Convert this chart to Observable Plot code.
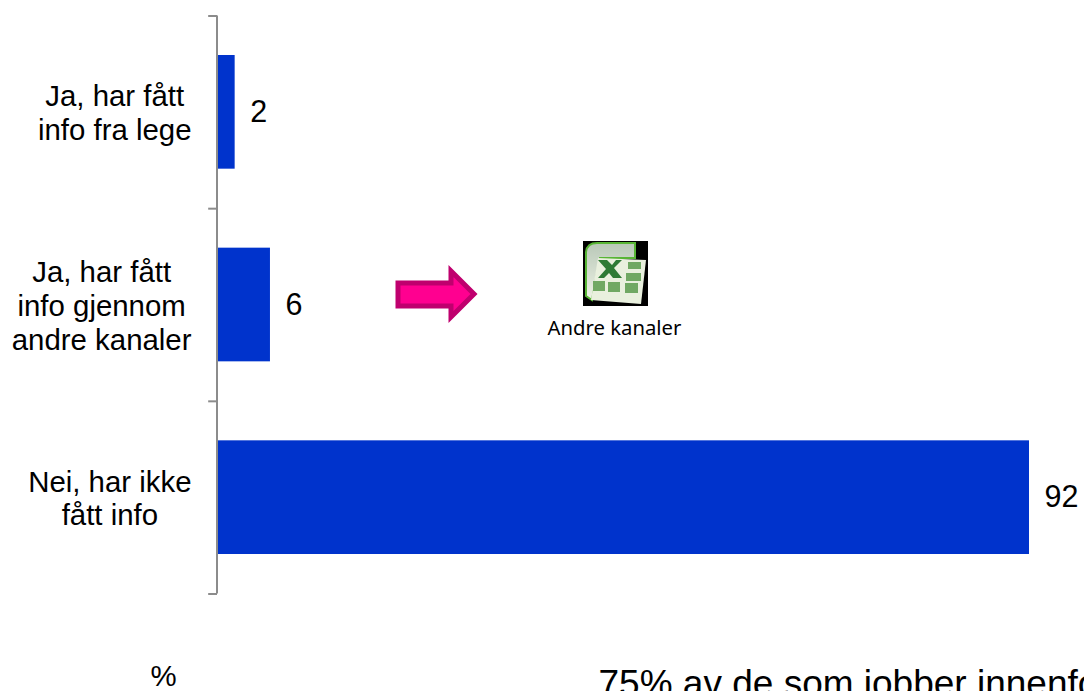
<!DOCTYPE html>
<html><head><meta charset="utf-8">
<script src="https://cdn.jsdelivr.net/npm/d3@7"></script>
<script src="https://cdn.jsdelivr.net/npm/@observablehq/plot@0.6"></script>
<style>html,body{margin:0;padding:0;background:#fff;overflow:hidden}svg{display:block}</style>
</head><body><div id="chart"></div>
<script>
const categories = ["Ja, har fått\ninfo fra lege", "Ja, har fått\ninfo gjennom\nandre kanaler", "Nei, har ikke\nfått info"];
const values = [2, 6, 92];
const rows = categories.map((c, i) => ({category: c, value: values[i]}));
const FONT = "Liberation Sans, Arial, sans-serif";
const AXIS = "#8c8c8c", BAR = "#0033cc";
const step = (593 - 15) / 3;
const ctx = document.createElement("canvas").getContext("2d");
ctx.font = "29.4px " + FONT;
const blockWidth = s => Math.max(...s.split("\n").map(l => ctx.measureText(l).width));

function decorations() {
  const g = d3.create("svg:g");
  g.append("polygon").attr("points", "398,283 451,283 451,271 474,294 451,317 451,306 398,306")
    .attr("fill", "#ff0090").attr("stroke", "#bf006e").attr("stroke-width", 5);
  const defs = g.append("defs");
  defs.append("filter").attr("id", "soft").append("feGaussianBlur").attr("stdDeviation", 0.7);
  const grad = defs.append("linearGradient").attr("id", "page").attr("x1", 0).attr("x2", 0).attr("y1", 0).attr("y2", 1);
  grad.append("stop").attr("offset", 0).attr("stop-color", "#b9c8b8");
  grad.append("stop").attr("offset", 1).attr("stop-color", "#eef3e6");
  g.append("rect").attr("x", 583).attr("y", 241).attr("width", 65).attr("height", 65).attr("fill", "#000");
  const icon = g.append("g").attr("filter", "url(#soft)");
  icon.append("path").attr("d", "M586 296 V252 Q587 243 597 243 H635 V258 H600 L592 300 Z").attr("fill", "url(#page)").attr("stroke", "#58b535").attr("stroke-width", 2);
  icon.append("polygon").attr("points", "598,258 646,260 641,304 591,300").attr("fill", "#e9f0de");
  const cells = [[628,262,13,7],[626,273,15,8],[593,281,12,10],[608,282,12,10],[625,283,13,10]];
  for (const [x,y,w,h] of cells) icon.append("rect").attr("x",x).attr("y",y).attr("width",w).attr("height",h).attr("fill","#6fa864");
  icon.append("path").attr("d","M598 260 H607 L612 265 L616 260 H622 L614 268 L622 278 H613 L609 273 L604 278 H598 L606 269 Z").attr("fill","#2f7a35");
  return g.node();
}

const plot = Plot.plot({
  width: 1084, height: 691,
  marginLeft: 217, marginRight: 55, marginTop: 15.5, marginBottom: 97.5,
  style: {background: "#fff", fontFamily: FONT, overflow: "hidden"},
  x: {domain: [0, 92], axis: null},
  y: {domain: categories, paddingInner: 0.41, paddingOuter: 0.205, round: false, axis: null},
  marks: [
    Plot.barX(rows, {x: "value", y: "category", fill: BAR}),
    Plot.ruleX([0], {stroke: AXIS, strokeWidth: 2, dx: -0.5}),
    Plot.ruleY(categories, {y: d => d, x1: -1, x2: 0, dy: -step / 2, stroke: AXIS, strokeWidth: 2}),
    Plot.ruleY(categories.slice(-1), {y: d => d, x1: -1, x2: 0, dy: step / 2, stroke: AXIS, strokeWidth: 2}),
    Plot.text(rows, {x: "value", y: "category", text: d => String(d.value), textAnchor: "start", dx: 15, fontSize: 30.5, fill: "#000"}),
    ...categories.map(c => Plot.text([c], {
      x: 0, y: d => d, text: d => d, textAnchor: "middle", lineHeight: 1.15,
      dx: -26 - blockWidth(c) / 2, fontSize: 29.4, fill: "#000"
    })),
    decorations,
    Plot.text(["Andre kanaler"], {frameAnchor: "top-left", lineAnchor: "middle", dx: 614 - 217, dy: 328 - 15.5, textAnchor: "middle", fontFamily: "Noto Sans", fontSize: 20.3, fill: "#000"}),
    Plot.text(["%"], {frameAnchor: "top-left", lineAnchor: "middle", dx: 163 - 217, dy: 676 - 15.5, textAnchor: "middle", fontSize: 29.4, fill: "#000"}),
    Plot.text(["75% av de som jobber innenfor"], {frameAnchor: "top-left", lineAnchor: "middle", dx: 598 - 217, dy: 684 - 15.5, textAnchor: "start", fontSize: 37, fill: "#000"})
  ]
});
document.getElementById("chart").append(plot);
</script></body></html>
